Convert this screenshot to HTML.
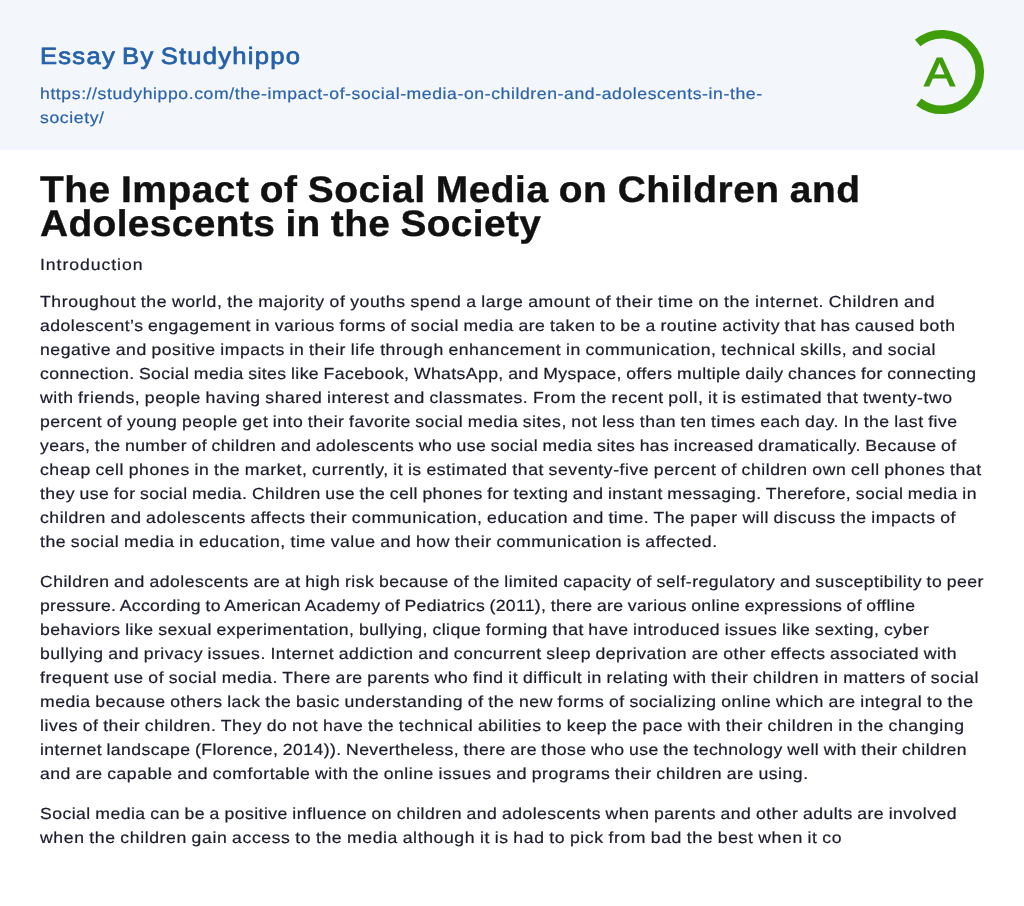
<!DOCTYPE html>
<html lang="en">
<head>
<meta charset="utf-8">
<title>The Impact of Social Media on Children and Adolescents in the Society</title>
<style>

html,body{margin:0;padding:0;}
body{width:1024px;height:906px;background:#fff;position:relative;overflow:hidden;font-family:"Liberation Sans",sans-serif;}
.hd{display:block;width:1024px;height:150px;background:#f3f6fa;margin:0;padding:0;}
h1,h2,p,main,.link{margin:0;padding:0;font-size:inherit;font-weight:inherit;}
.l{position:absolute;left:40px;white-space:nowrap;text-rendering:geometricPrecision;margin:0;padding:0;display:block;transform-origin:0 0;}
.logo{position:absolute;left:0;top:0;width:1024px;height:150px;}
.eb{font-family:"Liberation Sans", sans-serif;font-size:23.5px;font-weight:400;color:#2560aa;line-height:30px;height:30px;-webkit-text-stroke:0.7px #2560aa;}
.url{font-family:"Liberation Sans", sans-serif;font-size:16px;font-weight:400;color:#2a62ab;line-height:24px;height:24px;-webkit-text-stroke:0.2px #2a62ab;}
.h1{font-family:"Liberation Sans", sans-serif;font-size:37px;font-weight:700;color:#111111;line-height:34px;height:34px;-webkit-text-stroke:0.4px #111111;}
.p{font-family:"Liberation Sans", sans-serif;font-size:16px;font-weight:400;color:#1b1c2c;line-height:24px;height:24px;-webkit-text-stroke:0.22px #1b1c2c;}

</style>
</head>
<body>
<header class="hd">
<h2><span class="l eb" id="l0" style="top:41px;letter-spacing:1.136px;word-spacing:-2.000px;transform:scaleX(1.09);">Essay By Studyhippo</span></h2>
<div class="link"><span class="l url" id="l1" style="top:83px;letter-spacing:0.541px;transform:scaleX(1.1);">https://studyhippo.com/the-impact-of-social-media-on-children-and-adolescents-in-the-</span>
<span class="l url" id="l2" style="top:107px;letter-spacing:0.562px;transform:scaleX(1.1);">society/</span></div>
<svg class="logo" width="1024" height="150" viewBox="0 0 1024 150" role="img" aria-label="A"><path d="M917.70 43.04 A37.80 37.80 0 1 1 918.73 101.79" fill="none" stroke="#3f9c0a" stroke-width="8.60"/><text transform="translate(939.5 86) scale(1.12 1)" x="0" y="0" text-anchor="middle" font-family="Liberation Sans, sans-serif" font-size="41" font-weight="400" fill="#3f9c0a" stroke="#3f9c0a" stroke-width="1.1">A</text></svg>
</header>
<main>
<h1><span class="l h1" id="l3" style="top:173px;letter-spacing:0.516px;word-spacing:-1.000px;transform:scaleX(1.05);">The Impact of Social Media on Children and</span>
<span class="l h1" id="l4" style="top:207px;letter-spacing:0.371px;word-spacing:-1.000px;transform:scaleX(1.05);">Adolescents in the Society</span></h1>
<p><span class="l p" id="l5" style="top:254px;letter-spacing:0.870px;transform:scaleX(1.1);">Introduction</span></p>
<p><span class="l p" id="l6" style="top:291px;letter-spacing:0.556px;word-spacing:-0.700px;transform:scaleX(1.1);">Throughout the world, the majority of youths spend a large amount of their time on the internet. Children and</span>
<span class="l p" id="l7" style="top:315px;letter-spacing:0.447px;word-spacing:-0.700px;transform:scaleX(1.1);">adolescent’s engagement in various forms of social media are taken to be a routine activity that has caused both</span>
<span class="l p" id="l8" style="top:339px;letter-spacing:0.509px;word-spacing:-0.700px;transform:scaleX(1.1);">negative and positive impacts in their life through enhancement in communication, technical skills, and social</span>
<span class="l p" id="l9" style="top:363px;letter-spacing:0.366px;word-spacing:-0.700px;transform:scaleX(1.1);">connection. Social media sites like Facebook, WhatsApp, and Myspace, offers multiple daily chances for connecting</span>
<span class="l p" id="l10" style="top:387px;letter-spacing:0.491px;word-spacing:-0.700px;transform:scaleX(1.1);">with friends, people having shared interest and classmates. From the recent poll, it is estimated that twenty-two</span>
<span class="l p" id="l11" style="top:411px;letter-spacing:0.442px;word-spacing:-0.700px;transform:scaleX(1.1);">percent of young people get into their favorite social media sites, not less than ten times each day. In the last five</span>
<span class="l p" id="l12" style="top:435px;letter-spacing:0.358px;word-spacing:-0.700px;transform:scaleX(1.1);">years, the number of children and adolescents who use social media sites has increased dramatically. Because of</span>
<span class="l p" id="l13" style="top:459px;letter-spacing:0.505px;word-spacing:-0.700px;transform:scaleX(1.1);">cheap cell phones in the market, currently, it is estimated that seventy-five percent of children own cell phones that</span>
<span class="l p" id="l14" style="top:483px;letter-spacing:0.381px;word-spacing:-0.700px;transform:scaleX(1.1);">they use for social media. Children use the cell phones for texting and instant messaging. Therefore, social media in</span>
<span class="l p" id="l15" style="top:507px;letter-spacing:0.479px;word-spacing:-0.700px;transform:scaleX(1.1);">children and adolescents affects their communication, education and time. The paper will discuss the impacts of</span>
<span class="l p" id="l16" style="top:531px;letter-spacing:0.514px;word-spacing:-0.700px;transform:scaleX(1.1);">the social media in education, time value and how their communication is affected.</span></p>
<p><span class="l p" id="l17" style="top:571px;letter-spacing:0.443px;word-spacing:-0.700px;transform:scaleX(1.1);">Children and adolescents are at high risk because of the limited capacity of self-regulatory and susceptibility to peer</span>
<span class="l p" id="l18" style="top:595px;letter-spacing:0.297px;word-spacing:-0.700px;transform:scaleX(1.1);">pressure. According to American Academy of Pediatrics (2011), there are various online expressions of offline</span>
<span class="l p" id="l19" style="top:619px;letter-spacing:0.436px;word-spacing:-0.700px;transform:scaleX(1.1);">behaviors like sexual experimentation, bullying, clique forming that have introduced issues like sexting, cyber</span>
<span class="l p" id="l20" style="top:643px;letter-spacing:0.450px;word-spacing:-0.700px;transform:scaleX(1.1);">bullying and privacy issues. Internet addiction and concurrent sleep deprivation are other effects associated with</span>
<span class="l p" id="l21" style="top:667px;letter-spacing:0.498px;word-spacing:-0.700px;transform:scaleX(1.1);">frequent use of social media. There are parents who find it difficult in relating with their children in matters of social</span>
<span class="l p" id="l22" style="top:691px;letter-spacing:0.494px;word-spacing:-0.700px;transform:scaleX(1.1);">media because others lack the basic understanding of the new forms of socializing online which are integral to the</span>
<span class="l p" id="l23" style="top:715px;letter-spacing:0.505px;word-spacing:-0.700px;transform:scaleX(1.1);">lives of their children. They do not have the technical abilities to keep the pace with their children in the changing</span>
<span class="l p" id="l24" style="top:739px;letter-spacing:0.373px;word-spacing:-0.700px;transform:scaleX(1.1);">internet landscape (Florence, 2014)). Nevertheless, there are those who use the technology well with their children</span>
<span class="l p" id="l25" style="top:763px;letter-spacing:0.474px;word-spacing:-0.700px;transform:scaleX(1.1);">and are capable and comfortable with the online issues and programs their children are using.</span></p>
<p><span class="l p" id="l26" style="top:803px;letter-spacing:0.421px;word-spacing:-0.700px;transform:scaleX(1.1);">Social media can be a positive influence on children and adolescents when parents and other adults are involved</span>
<span class="l p" id="l27" style="top:827px;letter-spacing:0.559px;word-spacing:-0.700px;transform:scaleX(1.1);">when the children gain access to the media although it is had to pick from bad the best when it co</span></p>
</main>
</body>
</html>
